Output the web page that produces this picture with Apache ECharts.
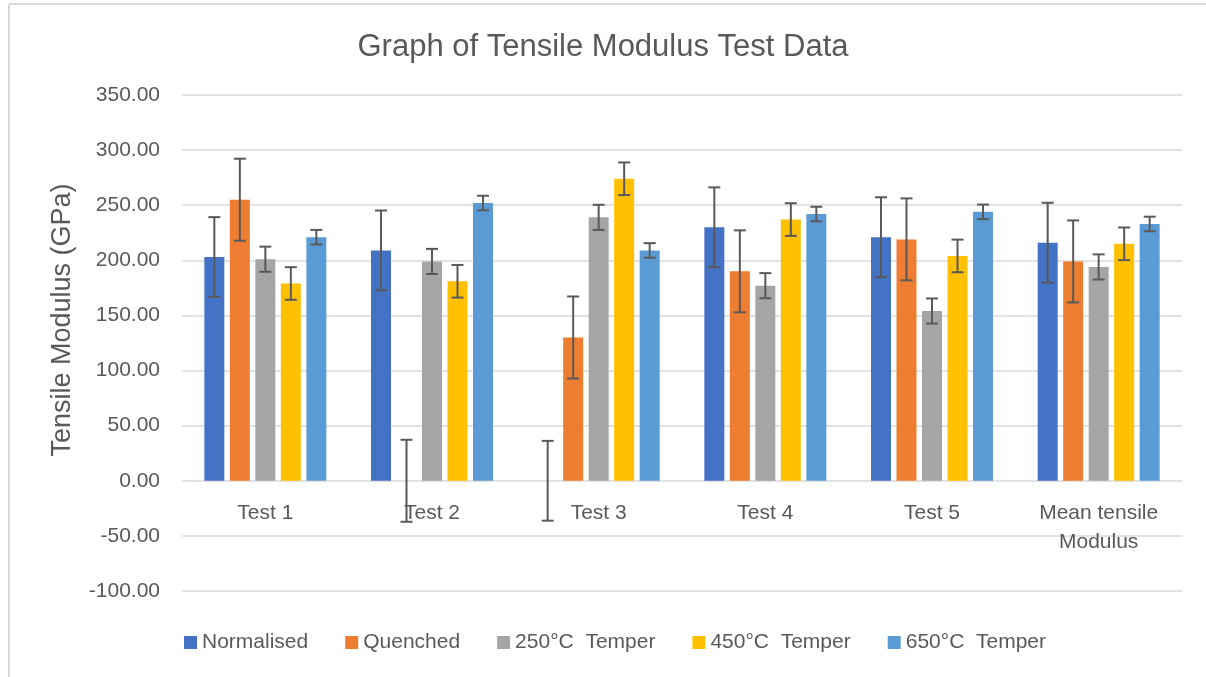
<!DOCTYPE html>
<html>
<head>
<meta charset="utf-8">
<script src="https://cdn.jsdelivr.net/npm/echarts@6/dist/echarts.min.js"></script>
<style>
html,body{margin:0;padding:0;background:#fff;}
#chart{width:1206px;height:677px;}
</style>
</head>
<body>
<div id="chart"></div>
<script>
var titleText = 'Graph of Tensile Modulus Test Data';
var yAxisTitle = 'Tensile Modulus (GPa)';
var categories = ['Test 1', 'Test 2', 'Test 3', 'Test 4', 'Test 5', 'Mean tensile\nModulus'];
var seriesNames = ['Normalised', 'Quenched', '250\u00b0C  Temper', '450\u00b0C  Temper', '650\u00b0C  Temper'];
var normalised = [203, 209, null, 230, 221, 216];
var quenched = [255, null, 130, 190, 219, 199];
var temper250 = [201, 199, 239, 177, 154, 194];
var temper450 = [179, 181, 274, 237, 204, 215];
var temper650 = [221, 252, 209, 242, 244, 233];
var errorAmounts = [36.2, 37.2, 11.4, 14.8, 6.6];
var yMin = -100, yMax = 350, yInterval = 50;

var colors = ['#4472C4', '#ED7D31', '#A5A5A5', '#FFC000', '#5B9BD5'];
var allValues = [normalised, quenched, temper250, temper450, temper650];
var BAR_W = 20, BAR_GAP = 5.5;
var textColor = '#595959';
var fontFam = '"Liberation Sans", Arial, sans-serif';
var GRID_TOP = 95, GRID_BOTTOM = 86, CH = 677;
var plotH = CH - GRID_TOP - GRID_BOTTOM;
// move the category axis (and its labels) up to the value 0 line
var xAxisOffset = -((0 - yMin) / (yMax - yMin)) * plotH;

var series = [];
allValues.forEach(function (vals, si) {
  series.push({
    name: seriesNames[si],
    type: 'bar',
    data: vals,
    barWidth: BAR_W,
    barGap: (BAR_GAP / BAR_W * 100) + '%',
    itemStyle: { color: colors[si] },
    z: 2
  });
});
allValues.forEach(function (vals, si) {
  var err = errorAmounts[si];
  var data = vals.map(function (v, ci) {
    var c = (v == null ? 0 : v);
    return [ci, c - err, c + err];
  });
  series.push({
    type: 'custom',
    name: seriesNames[si],
    data: data,
    z: 5,
    silent: true,
    renderItem: function (params, api) {
      var ci = api.value(0);
      var lo = api.coord([ci, api.value(1)]);
      var hi = api.coord([ci, api.value(2)]);
      var off = (si - 2) * (BAR_W + BAR_GAP);
      var x = lo[0] + off;
      var cap = 6;
      var st = { stroke: '#595959', lineWidth: 2 };
      return {
        type: 'group',
        children: [
          { type: 'line', shape: { x1: x, y1: lo[1], x2: x, y2: hi[1] }, style: st },
          { type: 'line', shape: { x1: x - cap, y1: lo[1], x2: x + cap, y2: lo[1] }, style: st },
          { type: 'line', shape: { x1: x - cap, y1: hi[1], x2: x + cap, y2: hi[1] }, style: st }
        ]
      };
    }
  });
});

var chart = echarts.init(document.getElementById('chart'), null, { renderer: 'canvas' });
chart.setOption({
  animation: false,
  backgroundColor: '#ffffff',
  title: {
    text: titleText,
    left: 'center',
    top: 32,
    padding: 0,
    textStyle: { color: textColor, fontSize: 31, fontWeight: 'normal', fontFamily: fontFam }
  },
  legend: {
    data: seriesNames,
    left: 179,
    top: 627,
    itemWidth: 13,
    itemHeight: 13,
    itemGap: 37,
    icon: 'rect',
    textStyle: { color: textColor, fontSize: 21, fontFamily: fontFam }
  },
  grid: { left: 182, right: 24, top: GRID_TOP, bottom: GRID_BOTTOM, containLabel: false },
  xAxis: {
    type: 'category',
    data: categories,
    offset: xAxisOffset,
    axisLine: { show: false },
    axisTick: { show: false },
    axisLabel: { color: textColor, fontSize: 21, fontFamily: fontFam, margin: 18, lineHeight: 29, interval: 0 }
  },
  yAxis: {
    type: 'value',
    min: yMin,
    max: yMax,
    interval: yInterval,
    axisLine: { show: false },
    axisTick: { show: false },
    splitLine: { lineStyle: { color: '#d9d9d9', width: 1.5 } },
    axisLabel: {
      color: textColor, fontSize: 21, fontFamily: fontFam, margin: 22,
      formatter: function (v) { return v.toFixed(2); }
    }
  },
  graphic: [
    { type: 'line', shape: { x1: 9, y1: 4, x2: 1206, y2: 4 }, style: { stroke: '#d9d9d9', lineWidth: 2 } },
    { type: 'line', shape: { x1: 9, y1: 4, x2: 9, y2: 677 }, style: { stroke: '#d9d9d9', lineWidth: 2 } },
    {
      type: 'text', x: 63, y: 320, rotation: Math.PI / 2,
      style: {
        text: yAxisTitle, fill: textColor, fontSize: 27, fontFamily: fontFam,
        textAlign: 'center', textVerticalAlign: 'middle'
      }
    }
  ],
  series: series
});
</script>
</body>
</html>
